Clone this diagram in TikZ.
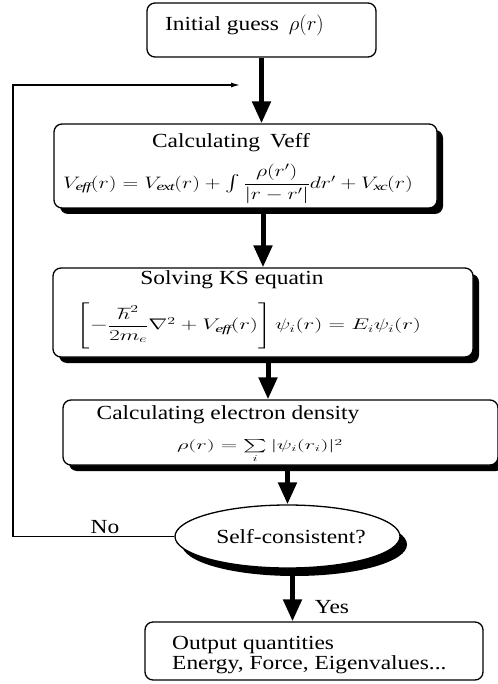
\documentclass[tikz,border=0pt]{standalone}
\usepackage{amsmath}
\usepackage{graphicx}
\usepackage{fontspec}
\setmainfont{Liberation Serif}[FakeStretch=1.17]
\usetikzlibrary{arrows.meta,shapes.geometric,shadows}
\newcommand{\fml}[3]{\scalebox{#1}[#2]{$#3$}}
\begin{document}
\begin{tikzpicture}[x=1pt,y=-1pt,
  font=\fontsize{20}{16}\selectfont,
  box/.style={draw,line width=1.3pt,rounded corners=8pt,fill=white,inner sep=0pt},
  shbox/.style={box,drop shadow={shadow xshift=6pt,shadow yshift=-6pt,fill=black,opacity=1}},
  shell/.style={draw,line width=1.3pt,ellipse,fill=white,inner sep=0pt,
     drop shadow={shadow xshift=7pt,shadow yshift=-8pt,fill=black,opacity=1}},
  flow/.style={line width=5pt,-{Triangle[length=22pt,width=18pt]}},
  back/.style={line width=1.3pt,-{Latex[length=9pt,width=5pt]}},
  txt/.style={inner sep=0pt}
]
\useasboundingbox (0,0) rectangle (497,684);
\fill[white] (0,0) rectangle (497,684);

% boxes
\node[box,minimum width=229pt,minimum height=54pt] (init) at (261.5,30) {};
\node[shbox,minimum width=383pt,minimum height=84pt] (veff) at (245.5,166) {};
\node[shbox,minimum width=420pt,minimum height=89pt] (ks) at (263,312.5) {};
\node[shbox,minimum width=435pt,minimum height=65pt] (dens) at (280.5,432.5) {};
\node[shell,minimum width=225pt,minimum height=63pt] (ell) at (287.5,536.5) {};
\node[box,minimum width=338pt,minimum height=58pt] (out) at (314,651) {};

% texts
\node[txt,anchor=west] (t1) at (165,25) {Initial guess\enspace$\rho(r)$};
\node[txt] (t2) at (231,143) {Calculating\enspace Veff};
\node[txt] (f2) at (238,184) {\fml{1.05}{0.8}{V_{\mathit{eff}}(r)=V_{\mathit{ext}}(r)+\int\dfrac{\rho(r')}{|r-r'|}dr'+V_{\mathit{xc}}(r)}};
\node[txt] (t3) at (232,280) {Solving KS equatin};
\node[txt] (f3) at (249,326) {\fml{1.1}{0.74}{\left[-\dfrac{\hbar^2}{2m_e}\nabla^2+V_{\mathit{eff}}(r)\right]\psi_i(r)=E_i\psi_i(r)}};
\node[txt] (t4) at (228,415) {Calculating electron density};
\node[txt] (f4) at (260,451) {\fml{1.08}{0.64}{\rho(r)=\sum\limits_i|\psi_i(r_i)|^2}};
\node[txt] (t5) at (291,537) {Self-consistent?};
\node[txt] (no) at (105,527) {No};
\node[txt] (yes) at (332,607) {Yes};
\node[txt,anchor=west,align=left] (t6) at (172,655) {Output quantities\\Energy, Force, Eigenvalues...};

% connectors
\coordinate (c1) at (13,85);
\coordinate (c2) at (240,85);
\draw[flow] (init.south) -- (init.south |- veff.north);
\draw[flow] (ks.north |- veff.south) -- (ks.north);
\draw[flow] ([xshift=5pt]ks.south) -- ([xshift=5pt]ks.south |- dens.north);
\draw[flow] (ell.north |- dens.south) -- (ell.north);
\draw[flow] ([xshift=5pt]ell.south) -- ([xshift=5pt]ell.south |- out.north);
\draw[back] (ell.west) -- (c1 |- ell.west) -- (c1) -- (c2);
\end{tikzpicture}
\end{document}
